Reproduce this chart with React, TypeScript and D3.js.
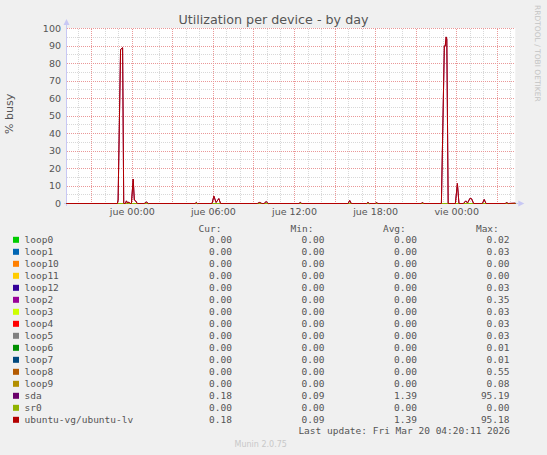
import React from "react";
import * as d3 from "d3";

// ---- data ----
const seriesNames = [
  "loop0", "loop1", "loop10", "loop11", "loop12", "loop2", "loop3", "loop4",
  "loop5", "loop6", "loop7", "loop8", "loop9", "sda", "sr0", "ubuntu-vg/ubuntu-lv",
];
const seriesColors = [
  "#00cc00", "#0066b3", "#ff8000", "#ffcc00", "#330099", "#990099", "#ccff00", "#ff0000",
  "#808080", "#008f00", "#00487d", "#b35a00", "#b38f00", "#6b006b", "#8fb300", "#b30000",
];
const curValues = [0, 0, 0, 0, 0, 0, 0, 0, 0, 0, 0, 0, 0, 0.18, 0, 0.18];
const minValues = [0, 0, 0, 0, 0, 0, 0, 0, 0, 0, 0, 0, 0, 0.09, 0, 0.09];
const avgValues = [0, 0, 0, 0, 0, 0, 0, 0, 0, 0, 0, 0, 0, 1.39, 0, 1.39];
const maxValues = [0.02, 0.03, 0, 0, 0.03, 0.35, 0.03, 0.03, 0.03, 0.01, 0.01, 0.55, 0.08, 95.19, 0, 95.18];

// minutes relative to Thu 19 Mar 2026 00:00
const sampleMinutes = [
  -292, -66, -63, -52, -43, -38, -31, -26, -21, -15, -10, -4, 4, 9, 15, 22,
  53, 63, 71, 279, 284, 289, 354, 362, 372, 384, 392, 555, 565, 575, 585, 594, 603,
  740, 746, 752, 958, 965, 972, 1040, 1046, 1052, 1078, 1084, 1090, 1282, 1288, 1294,
  1372, 1385, 1389, 1393, 1396, 1402, 1434, 1443, 1450, 1470, 1480, 1488, 1499, 1506, 1515,
  1554, 1562, 1570, 1655, 1662, 1668, 1700,
];
const sdaValues = [
  0, 0, 2, 88, 89, 0, 0, 1.5, 0.3, 0.8, 0, 0, 14, 2, 1.5, 0,
  0, 0.8, 0, 0, 0.6, 0, 0, 4.2, 0.6, 2.8, 0, 0, 0.6, 0, 0, 1.1, 0,
  0, 0.6, 0, 0, 1.7, 0, 0, 0.6, 0, 0, 0.5, 0, 0, 0.5, 0,
  0, 90, 90, 95.19, 94, 0, 0, 11.4, 0, 0, 1.5, 0.3, 3, 2.7, 0,
  0, 2.3, 0, 0, 0.5, 0, 0.18,
];
const lvValues = [
  0, 0, 2, 88, 89, 0, 0, 1.5, 0.3, 0.8, 0, 0, 14, 2, 1.5, 0,
  0, 0.8, 0, 0, 0.6, 0, 0, 4.2, 0.6, 2.8, 0, 0, 0.6, 0, 0, 1.1, 0,
  0, 0.6, 0, 0, 1.7, 0, 0, 0.6, 0, 0, 0.5, 0, 0, 0.5, 0,
  0, 90, 90, 95.18, 94, 0, 0, 11.4, 0, 0, 1.5, 0.3, 3, 2.7, 0,
  0, 2.3, 0, 0, 0.5, 0, 0.18,
];

const domainMinutes = [-292, 1700];
const yTicks = [0, 10, 20, 30, 40, 50, 60, 70, 80, 90, 100];
const xTickHours = [0, 6, 12, 18, 24];
const xTickLabels = ["jue 00:00", "jue 06:00", "jue 12:00", "jue 18:00", "vie 00:00"];

const titleText = "Utilization per device - by day";
const yLabel = "% busy";
const lastUpdate = "Last update: Fri Mar 20 04:20:11 2026";
const footer = "Munin 2.0.75";
const watermark = "RRDTOOL / TOBI OETIKER";

// ---- layout ----
const W = 547;
const H = 455;
const PL = 66.5, PR = 515.3, PT = 28.5, PB = 203.5;
const SANS = "'DejaVu Sans', sans-serif";
const MONO = "'DejaVu Sans Mono', monospace";

export default function App() {
  const x = d3.scaleLinear().domain(domainMinutes).range([PL, PR]);
  const y = d3.scaleLinear().domain([0, 100]).range([PB, PT]);
  const crisp = (v: number) => Math.floor(v) + 0.5;

  const hStart = Math.ceil(domainMinutes[0] / 60);
  const hEnd = Math.floor(domainMinutes[1] / 60);
  const hours = d3.range(hStart, hEnd + 1);
  const minorV = hours.filter((h) => ((h % 3) + 3) % 3 !== 0);
  const majorV = hours.filter((h) => ((h % 3) + 3) % 3 === 0);
  const minorH = d3.range(5, 100, 10);
  const majorH = d3.range(10, 101, 10);

  const line = d3
    .line<number>()
    .x((_, i) => x(sampleMinutes[i]))
    .y((v) => y(v));
  const flat = d3
    .line<number>()
    .x((_, i) => x(domainMinutes[i]))
    .y((v) => y(v));

  const fmt = d3.format(".2f");
  const rowY = (i: number) => 242.8 + 12 * i;
  const textColor = "#555";

  return (
    <svg
      width={W}
      height={H}
      style={{ position: "absolute", left: 0, top: 0, background: "#f0f0f0" }}
    >
      <rect x={0} y={0} width={W} height={H} fill="#f0f0f0" />
      <rect x={67} y={28} width={PR - 67} height={PB - 28} fill="#ffffff" />

      {/* grid */}
      <g shapeRendering="crispEdges" strokeWidth={1} strokeDasharray="1,1">
        {minorH.map((v) => (
          <line key={"mh" + v} x1={67} x2={PR} y1={crisp(y(v))} y2={crisp(y(v))} stroke="#d8d8d8" />
        ))}
        {minorV.map((h) => (
          <line key={"mv" + h} x1={crisp(x(h * 60))} x2={crisp(x(h * 60))} y1={PT} y2={PB} stroke="#d8d8d8" />
        ))}
        {majorH.map((v) => (
          <line key={"Mh" + v} x1={67} x2={PR} y1={crisp(y(v))} y2={crisp(y(v))} stroke="#ea9898" />
        ))}
        {majorV.map((h) => (
          <line key={"Mv" + h} x1={crisp(x(h * 60))} x2={crisp(x(h * 60))} y1={PT} y2={PB} stroke="#ea9898" />
        ))}
      </g>

      {/* axes */}
      <g shapeRendering="crispEdges">
        <line x1={66.5} x2={66.5} y1={24} y2={206} stroke="#c8c8f4" />
        <line x1={64} x2={PR + 3} y1={203.5} y2={203.5} stroke="#c8c8f4" />
      </g>
      <path d="M63.5,25 L66.5,19 L69.5,25 Z" fill="#c8c8f4" />
      <path d={`M${PR + 3},200.5 L${PR + 9},203.5 L${PR + 3},206.5 Z`} fill="#c8c8f4" />

      {/* series */}
      <g fill="none" strokeWidth={1}>
        {seriesNames.slice(0, 13).map((n, i) => (
          <path key={n} d={flat([0, 0]) || ""} stroke={seriesColors[i]} />
        ))}
        <path d={line(sdaValues) || ""} stroke={seriesColors[13]} />
        <path d={flat([0, 0]) || ""} stroke={seriesColors[14]} />
        <path d={line(lvValues) || ""} stroke={seriesColors[15]} />
      </g>

      {/* tick labels */}
      <g fontFamily={SANS} fontSize={9.5} fill={textColor}>
        {yTicks.map((v) => (
          <text key={v} x={61} y={y(v) + 3.4} textAnchor="end">
            {v}
          </text>
        ))}
        {xTickHours.map((h, i) => (
          <text key={h} x={x(h * 60)} y={215} textAnchor="middle">
            {xTickLabels[i]}
          </text>
        ))}
      </g>

      {/* title & labels */}
      <text x={273.5} y={24} textAnchor="middle" fontFamily={SANS} fontSize={12.7} fill={textColor}>
        {titleText}
      </text>
      <text
        transform="translate(13.3,113.8) rotate(-90)"
        textAnchor="middle"
        fontFamily={SANS}
        fontSize={11}
        fill={textColor}
      >
        {yLabel}
      </text>
      <text
        transform="translate(534.5,5) rotate(90)"
        textAnchor="start"
        fontFamily={SANS}
        fontSize={7.5}
        fill="#c4c4c4"
      >
        {watermark}
      </text>

      {/* legend */}
      <g fontFamily={MONO} fontSize={9.5} fill={textColor}>
        <text x={221.5} y={231.8} textAnchor="end">Cur:</text>
        <text x={313.5} y={231.8} textAnchor="end">Min:</text>
        <text x={405.8} y={231.8} textAnchor="end">Avg:</text>
        <text x={498.8} y={231.8} textAnchor="end">Max:</text>
        {seriesNames.map((n, i) => (
          <g key={n}>
            <rect x={13} y={rowY(i) - 6} width={6} height={6} fill={seriesColors[i]} />
            <text x={24.5} y={rowY(i)}>{n}</text>
            <text x={232} y={rowY(i)} textAnchor="end">{fmt(curValues[i])}</text>
            <text x={324.5} y={rowY(i)} textAnchor="end">{fmt(minValues[i])}</text>
            <text x={417} y={rowY(i)} textAnchor="end">{fmt(avgValues[i])}</text>
            <text x={509.5} y={rowY(i)} textAnchor="end">{fmt(maxValues[i])}</text>
          </g>
        ))}
        <text x={510} y={434.2} textAnchor="end">{lastUpdate}</text>
      </g>
      <text x={260.7} y={447} textAnchor="middle" fontFamily={SANS} fontSize={8} fill="#c8c8c8">
        {footer}
      </text>
    </svg>
  );
}
